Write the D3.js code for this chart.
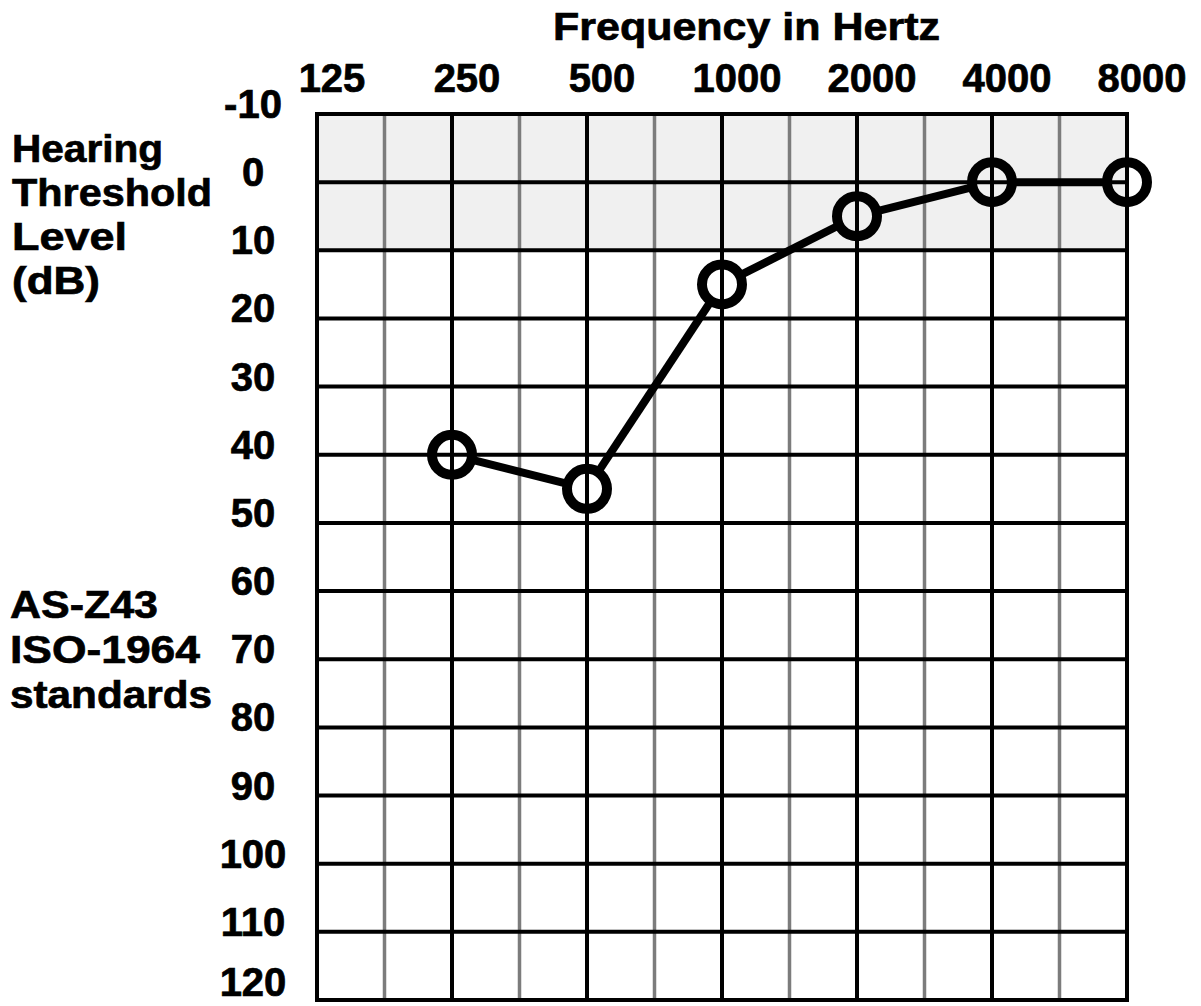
<!DOCTYPE html>
<html>
<head>
<meta charset="utf-8">
<script src="https://cdn.jsdelivr.net/npm/d3@7"></script>
<style>
  body { margin: 0; background: #fff; }
  text { font-family: "Liberation Sans", Arial, sans-serif; font-weight: bold; fill: #000; stroke: #000; stroke-width: 0.7px; }
</style>
</head>
<body>
<svg id="chart"></svg>
<script>
var width = 1201,
    height = 1006;

// Audiogram data: frequency (Hz) and hearing threshold (dB)
var frequencies = [125, 250, 500, 1000, 2000, 4000, 8000];
var freqLabels = ["125", "250", "500", "1000", "2000", "4000", "8000"];
var testedFreqs = [250, 500, 1000, 2000, 4000, 8000];
var thresholds = [40, 45, 15, 5, 0, 0];
var dbTicks = [-10, 0, 10, 20, 30, 40, 50, 60, 70, 80, 90, 100, 110, 120];
var normalBand = [-10, 10];
var leftLabelTop = ["Hearing", "Threshold", "Level", "(dB)"];
var leftLabelBottom = ["AS-Z43", "ISO-1964", "standards"];

var svg = d3.select("#chart")
    .attr("width", width)
    .attr("height", height);

var x = d3.scaleLog().base(2)
    .domain([125, 8000])
    .range([317, 1127]);

var y = d3.scaleLinear()
    .domain([-10, 120])
    .range([114, 1000]);

// shaded normal hearing band
svg.append("rect")
    .attr("x", x(125))
    .attr("y", y(normalBand[0]))
    .attr("width", x(8000) - x(125))
    .attr("height", y(normalBand[1]) - y(normalBand[0]))
    .attr("fill", "#f0f0f0");

// half-octave grey lines
var halfOctaves = frequencies.slice(0, -1).map((f) => f * Math.SQRT2);
svg.append("g")
    .selectAll("line")
    .data(halfOctaves)
    .enter().append("line")
        .attr("x1", (d) => x(d))
        .attr("x2", (d) => x(d))
        .attr("y1", y(-10))
        .attr("y2", y(120))
        .attr("stroke", "#7c7c7c")
        .attr("stroke-width", 3.5);

// horizontal grid lines
svg.append("g")
    .selectAll("line")
    .data(dbTicks)
    .enter().append("line")
        .attr("x1", x(125))
        .attr("x2", x(8000))
        .attr("y1", (d) => y(d))
        .attr("y2", (d) => y(d))
        .attr("stroke", "#000")
        .attr("stroke-width", 4);

// octave lines
svg.append("g")
    .selectAll("line")
    .data(frequencies)
    .enter().append("line")
        .attr("x1", (d) => x(d))
        .attr("x2", (d) => x(d))
        .attr("y1", y(-10))
        .attr("y2", y(120))
        .attr("stroke", "#000")
        .attr("stroke-width", 4);

// border
svg.append("rect")
    .attr("x", x(125))
    .attr("y", y(-10))
    .attr("width", x(8000) - x(125))
    .attr("height", y(120) - y(-10))
    .attr("fill", "none")
    .attr("stroke", "#000")
    .attr("stroke-width", 4);

// frequency labels
svg.append("g")
    .selectAll("text")
    .data(frequencies)
    .enter().append("text")
        .attr("x", (d) => x(d) + 15)
        .attr("y", 92)
        .attr("text-anchor", "middle")
        .attr("font-size", 40)
        .text((d, i) => freqLabels[i]);

// dB labels (last one nudged up so it stays inside the page)
svg.append("g")
    .selectAll("text")
    .data(dbTicks)
    .enter().append("text")
        .attr("x", 253)
        .attr("y", (d) => Math.min(y(d) + 4, 996))
        .attr("text-anchor", "middle")
        .attr("font-size", 40)
        .text((d) => d);

svg.append("text")
    .attr("x", 553)
    .attr("y", 40)
    .attr("font-size", 39)
    .attr("textLength", 387)
    .attr("lengthAdjust", "spacingAndGlyphs")
    .text("Frequency in Hertz");

var topWidths = [151, 200, 115, 88];
svg.append("g")
    .selectAll("text")
    .data(leftLabelTop)
    .enter().append("text")
        .attr("x", 12)
        .attr("y", (d, i) => 162 + i * 44)
        .attr("font-size", 39)
        .attr("textLength", (d, i) => topWidths[i])
        .attr("lengthAdjust", "spacingAndGlyphs")
        .text((d) => d);

var bottomWidths = [148, 190, 202];
svg.append("g")
    .selectAll("text")
    .data(leftLabelBottom)
    .enter().append("text")
        .attr("x", 10)
        .attr("y", (d, i) => 618 + i * 45)
        .attr("font-size", 39)
        .attr("textLength", (d, i) => bottomWidths[i])
        .attr("lengthAdjust", "spacingAndGlyphs")
        .text((d) => d);

// threshold points
var points = testedFreqs.map((f, i) => ({ x: x(f), y: y(thresholds[i]) }));
var r = 20;

// connecting segments, stopping at the circle edges
var segs = d3.pairs(points).map(function(p) {
    var a = p[0], b = p[1];
    var dx = b.x - a.x, dy = b.y - a.y;
    var len = Math.sqrt(dx * dx + dy * dy);
    var ux = dx / len, uy = dy / len;
    return { x1: a.x + ux * r, y1: a.y + uy * r, x2: b.x - ux * r, y2: b.y - uy * r };
});

svg.append("g")
    .selectAll("line")
    .data(segs)
    .enter().append("line")
        .attr("x1", (d) => d.x1)
        .attr("y1", (d) => d.y1)
        .attr("x2", (d) => d.x2)
        .attr("y2", (d) => d.y2)
        .attr("stroke", "#000")
        .attr("stroke-width", 8);

svg.append("g")
    .selectAll("circle")
    .data(points)
    .enter().append("circle")
        .attr("cx", (d) => d.x)
        .attr("cy", (d) => d.y)
        .attr("r", r)
        .attr("fill", "none")
        .attr("stroke", "#000")
        .attr("stroke-width", 10);
</script>
</body>
</html>
